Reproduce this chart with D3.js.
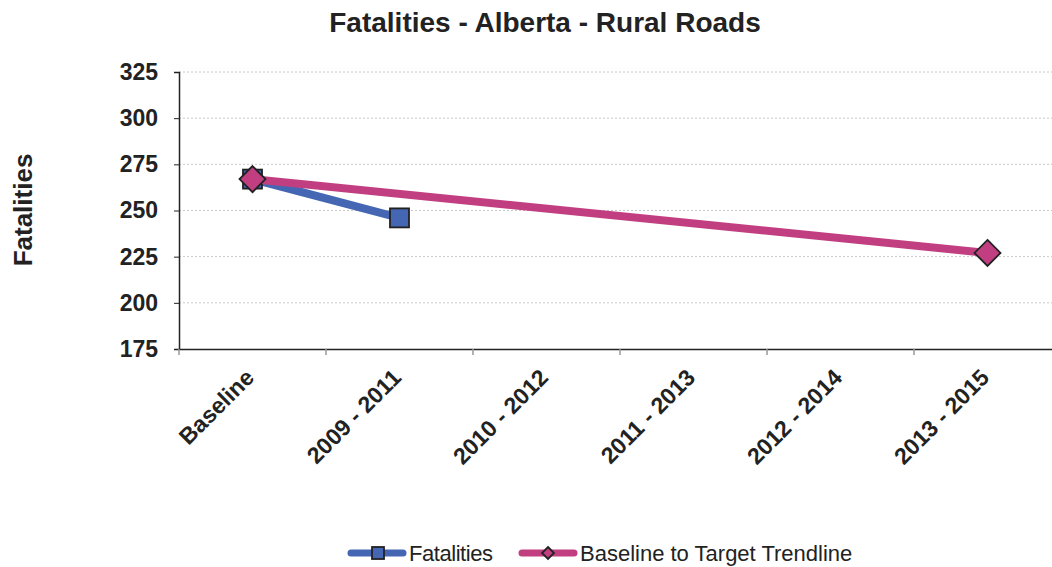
<!DOCTYPE html>
<html><head><meta charset="utf-8">
<script src="https://cdn.jsdelivr.net/npm/d3@7"></script>
<style>body{margin:0;background:#fff}svg{display:block;font-family:"Liberation Sans",Arial,sans-serif}</style>
</head><body><svg id="c" width="1052" height="567"></svg>
<script>
const categories = ["Baseline","2009 - 2011","2010 - 2012","2011 - 2013","2012 - 2014","2013 - 2015"];
const fatalities = [267, 246, null, null, null, null];
const trendline = [267, null, null, null, null, 227];
const yTicks = [175, 200, 225, 250, 275, 300, 325];

(function(){
const svg = d3.select("#c");
const pL = 179, pR = 1061, pT = 72, pB = 349;
const x = d3.scaleBand().domain(categories).range([pL, pR]);
const y = d3.scaleLinear().domain([175, 325]).range([pB, pT]);
const cx = c => x(c) + x.bandwidth()/2;

// gridlines
svg.append("g").selectAll("line").data(yTicks.filter(t => t > 175)).join("line")
  .attr("x1", pL).attr("x2", 1052).attr("y1", d => y(d)).attr("y2", d => y(d))
  .attr("stroke", "#c8c8c8").attr("stroke-width", 1).attr("stroke-dasharray", "2,2");

// y axis
const ya = svg.append("g").attr("transform", `translate(${pL},0)`)
  .call(d3.axisLeft(y).tickValues(yTicks).tickSize(5).tickPadding(16));
ya.select(".domain").attr("stroke", "#222").attr("stroke-width", 1.5);
ya.selectAll(".tick line").attr("stroke", "#222");
ya.selectAll("text").attr("font-size", 23).attr("font-weight", "bold").attr("fill", "#222");

// x axis
const xa = svg.append("g").attr("transform", `translate(0,${pB})`)
  .call(d3.axisBottom(x).tickSize(0).tickFormat(""));
xa.select(".domain").attr("stroke", "#222").attr("stroke-width", 1.5);
const bounds = categories.map(c => x(c));
svg.append("g").selectAll("line").data(bounds).join("line")
  .attr("x1", d => d).attr("x2", d => d).attr("y1", pB).attr("y2", pB + 6)
  .attr("stroke", "#999").attr("stroke-width", 1.5);
svg.append("g").selectAll("text").data(categories).join("text")
  .attr("transform", d => `translate(${cx(d)+3},${pB + 30}) rotate(-45)`)
  .attr("text-anchor", "end").attr("font-size", 23).attr("font-weight", "bold").attr("fill", "#222")
  .text(d => d);

// title & y label
svg.append("text").attr("x", 545).attr("y", 32).attr("text-anchor", "middle")
  .attr("font-size", 28).attr("font-weight", "bold").attr("fill", "#222").text("Fatalities - Alberta - Rural Roads");
svg.append("text").attr("transform", "translate(32,210) rotate(-90)").attr("text-anchor", "middle")
  .attr("font-size", 26).attr("font-weight", "bold").attr("fill", "#222").text("Fatalities");

const blue = "#4567b3", pink = "#c13f80";
const line = d3.line().x(d => cx(d.c)).y(d => y(d.v));
const pts = arr => categories.map((c, i) => ({c, v: arr[i]})).filter(d => d.v != null);

const fp = pts(fatalities), tp = pts(trendline);
svg.append("path").attr("d", line(fp)).attr("fill", "none").attr("stroke", blue).attr("stroke-width", 8);
svg.append("g").selectAll("rect").data(fp).join("rect")
  .attr("x", d => cx(d.c) - 9.5).attr("y", d => y(d.v) - 9.5).attr("width", 19).attr("height", 19)
  .attr("fill", blue).attr("stroke", "#222").attr("stroke-width", 1.8);
svg.append("path").attr("d", line(tp)).attr("fill", "none").attr("stroke", pink).attr("stroke-width", 8);
const diamond = (s) => `M0,${-s}L${s},0L0,${s}L${-s},0Z`;
svg.append("g").selectAll("path").data(tp).join("path")
  .attr("transform", d => `translate(${cx(d.c)},${y(d.v)})`).attr("d", diamond(13))
  .attr("fill", pink).attr("stroke", "#222").attr("stroke-width", 1.8);

// legend
const ly = 553;
const lg = svg.append("g");
lg.append("line").attr("x1", 351).attr("x2", 403).attr("y1", ly).attr("y2", ly).attr("stroke", blue).attr("stroke-width", 7).attr("stroke-linecap", "round");
lg.append("rect").attr("x", 372).attr("y", ly - 6).attr("width", 12).attr("height", 12).attr("fill", blue).attr("stroke", "#222").attr("stroke-width", 1.8);
lg.append("text").attr("x", 409).attr("y", ly + 8).attr("font-size", 22).attr("fill", "#222").attr("textLength", 84).text("Fatalities");
lg.append("line").attr("x1", 522).attr("x2", 574).attr("y1", ly).attr("y2", ly).attr("stroke", pink).attr("stroke-width", 7).attr("stroke-linecap", "round");
lg.append("path").attr("transform", `translate(548,${ly})`).attr("d", diamond(6)).attr("fill", pink).attr("stroke", "#222").attr("stroke-width", 1.8);
lg.append("text").attr("x", 580).attr("y", ly + 8).attr("font-size", 22).attr("fill", "#222").text("Baseline to Target Trendline");
})();
</script></body></html>
